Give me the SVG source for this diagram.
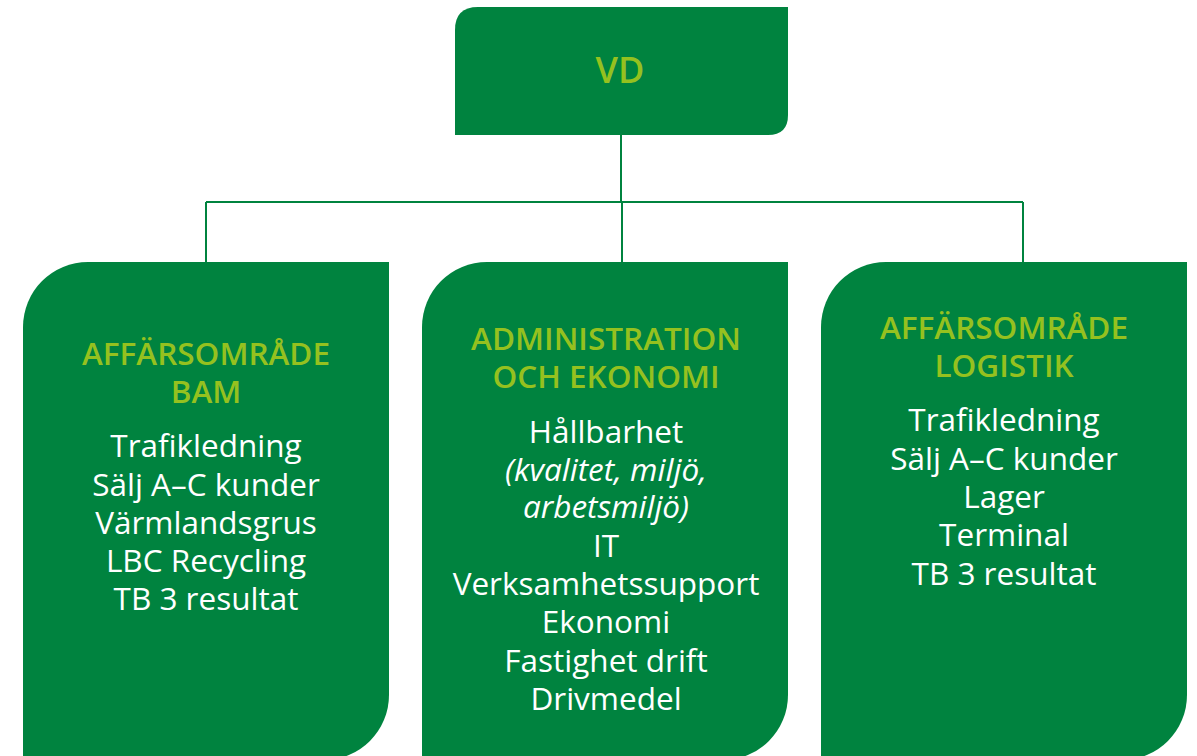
<svg xmlns="http://www.w3.org/2000/svg" width="1197" height="756" viewBox="0 0 1197 756">
<style>
.box{fill:#00833F}
.hd{font-family:"Open Sans","Liberation Sans",sans-serif;font-weight:600;font-size:31.5px;fill:#95C11F;text-anchor:middle}
.vd{font-size:36px}
.tx{font-family:"Open Sans","Liberation Sans",sans-serif;font-size:31.5px;fill:#FFFFFF;text-anchor:middle}
.it{font-style:italic}
.ln{stroke:#00833F;stroke-width:2;fill:none}
</style>
<rect width="1197" height="756" fill="#FFFFFF"/>
<g id="connectors">
<path class="ln" d="M621 135 V202 M206 202 H1023 M206 202 V262 M622 202 V262 M1023 202 V262"/>
</g>
<g id="vd">
<path class="box" d="M478 7 H788 V115 Q788 135 768 135 H455 V30 Q455 7 478 7 Z"/>
<text class="hd vd" x="620" y="83">VD</text>
</g>
<g id="bam">
<path class="box" d="M88 262 H389 V695 A65 65 0 0 1 324 760 H23 V327 A65 65 0 0 1 88 262 Z"/>
<text class="hd" x="206" y="365">AFFÄRSOMRÅDE</text>
<text class="hd" x="206" y="403">BAM</text>
<text class="tx" x="206" y="457">Trafikledning</text>
<text class="tx" x="206" y="496">Sälj A–C kunder</text>
<text class="tx" x="206" y="534">Värmlandsgrus</text>
<text class="tx" x="206" y="572">LBC Recycling</text>
<text class="tx" x="206" y="610">TB 3 resultat</text>
</g>
<g id="admin">
<path class="box" d="M487 262 H788 V695 A65 65 0 0 1 723 760 H422 V327 A65 65 0 0 1 487 262 Z"/>
<text class="hd" x="606" y="350">ADMINISTRATION</text>
<text class="hd" x="606" y="388">OCH EKONOMI</text>
<text class="tx" x="606" y="443">Hållbarhet</text>
<text class="tx it" x="606" y="481">(kvalitet, miljö,</text>
<text class="tx it" x="606" y="518">arbetsmiljö)</text>
<text class="tx" x="606" y="557">IT</text>
<text class="tx" x="606" y="595">Verksamhetssupport</text>
<text class="tx" x="606" y="633">Ekonomi</text>
<text class="tx" x="606" y="672">Fastighet drift</text>
<text class="tx" x="606" y="710">Drivmedel</text>
</g>
<g id="logistik">
<path class="box" d="M886 262 H1187 V695 A65 65 0 0 1 1122 760 H821 V327 A65 65 0 0 1 886 262 Z"/>
<text class="hd" x="1004" y="339">AFFÄRSOMRÅDE</text>
<text class="hd" x="1004" y="377">LOGISTIK</text>
<text class="tx" x="1004" y="431">Trafikledning</text>
<text class="tx" x="1004" y="470">Sälj A–C kunder</text>
<text class="tx" x="1004" y="508">Lager</text>
<text class="tx" x="1004" y="546">Terminal</text>
<text class="tx" x="1004" y="585">TB 3 resultat</text>
</g>
</svg>
